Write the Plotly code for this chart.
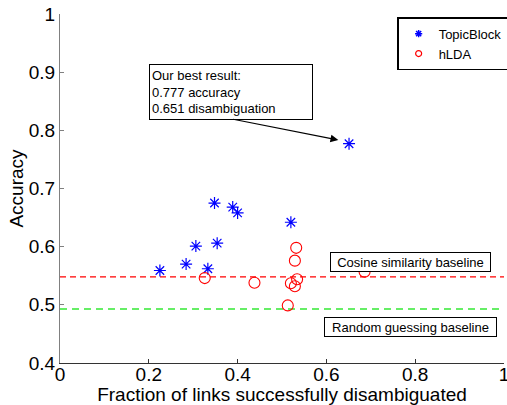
import plotly.graph_objects as go

# TopicBlock results (fraction disambiguated, accuracy)
topic_x = [0.225, 0.284, 0.306, 0.333, 0.354, 0.348, 0.389, 0.400, 0.520, 0.651]
topic_y = [0.559, 0.570, 0.601, 0.562, 0.606, 0.675, 0.668, 0.658, 0.642, 0.777]

# hLDA results
hlda_x = [0.326, 0.438, 0.532, 0.529, 0.534, 0.520, 0.529, 0.513, 0.651, 0.686]
hlda_y = [0.546, 0.538, 0.598, 0.576, 0.544, 0.537, 0.532, 0.499, 0.468, 0.557]

# Baselines
cosine_baseline = 0.548
random_baseline = 0.493
baseline_x = [0, 1]

x_ticks = [0, 0.2, 0.4, 0.6, 0.8, 1]
x_tick_labels = ["0", "0.2", "0.4", "0.6", "0.8", "1"]
y_ticks = [0.4, 0.5, 0.6, 0.7, 0.8, 0.9, 1]
y_tick_labels = ["0.4", "0.5", "0.6", "0.7", "0.8", "0.9", "1"]

FONT = "Liberation Sans, Arial, Helvetica, sans-serif"

fig = go.Figure()

fig.add_trace(go.Scatter(
    x=baseline_x, y=[cosine_baseline] * 2, mode="lines",
    line=dict(color="#ff0000", width=1.2, dash="6px,4px"),
    showlegend=False, hoverinfo="skip"))
fig.add_trace(go.Scatter(
    x=baseline_x, y=[random_baseline] * 2, mode="lines",
    line=dict(color="#66ee66", width=2, dash="7px,5px"),
    showlegend=False, hoverinfo="skip"))

fig.add_trace(go.Scatter(
    x=topic_x, y=topic_y, mode="markers", name="TopicBlock",
    marker=dict(symbol="asterisk-open", size=10, color="blue",
                line=dict(color="blue", width=1.2)),
    showlegend=False))
fig.add_trace(go.Scatter(
    x=hlda_x, y=hlda_y, mode="markers", name="hLDA",
    marker=dict(symbol="circle-open", size=11, color="red",
                line=dict(color="red", width=1.1)),
    showlegend=False))

# legend entries with small markers
fig.add_trace(go.Scatter(
    x=[None], y=[None], mode="markers", name="TopicBlock",
    marker=dict(symbol="asterisk-open", size=6, color="blue",
                line=dict(color="blue", width=1.5))))
fig.add_trace(go.Scatter(
    x=[None], y=[None], mode="markers", name="hLDA",
    marker=dict(symbol="circle-open", size=6, color="red",
                line=dict(color="red", width=1.2))))

annotations = [
    dict(x=0.789, y=0.5736, xref="x", yref="y", text="Cosine similarity baseline",
         showarrow=False, font=dict(size=13, color="black", family=FONT),
         bgcolor="white", bordercolor="black", borderwidth=1, borderpad=1,
         width=157, height=16),
    dict(x=0.790, y=0.4624, xref="x", yref="y", text="Random guessing baseline",
         showarrow=False, font=dict(size=13, color="black", family=FONT),
         bgcolor="white", bordercolor="black", borderwidth=1, borderpad=1,
         width=169, height=16),
    dict(x=0.385, y=0.8667, xref="x", yref="y",
         text="Our best result:<br>0.777 accuracy<br>0.651 disambiguation",
         showarrow=False, align="left",
         font=dict(size=13, color="black", family=FONT),
         bgcolor="white", bordercolor="black", borderwidth=1, borderpad=2,
         width=158, height=50),
    dict(x=0.6268, y=0.7834, xref="x", yref="y",
         ax=0.3867, ay=0.8195, axref="x", ayref="y",
         text="", showarrow=True, arrowhead=2, arrowsize=1.3, arrowwidth=1.2,
         arrowcolor="black"),
]

fig.update_layout(
    width=507, height=405,
    margin=dict(l=60, r=3, t=14, b=42, autoexpand=False),
    paper_bgcolor="white", plot_bgcolor="white",
    font=dict(family=FONT, size=19, color="black"),
    annotations=annotations,
    legend=dict(x=0.76, y=0.99, xanchor="left", yanchor="top",
                bgcolor="white", bordercolor="black", borderwidth=1.2,
                font=dict(size=13, family=FONT), itemwidth=30,
                tracegroupgap=0),
    xaxis=dict(range=[0, 1], tickvals=x_ticks, ticktext=x_tick_labels,
               ticks="inside", ticklen=4, tickcolor="#333333",
               showline=True, linecolor="#333333", linewidth=1,
               showgrid=False, zeroline=False, mirror=False, automargin=False,
               ticklabeloverflow="allow", ticklabelstandoff=-6,
               tickfont=dict(size=19),
               title=dict(text="Fraction of links successfully disambiguated",
                          font=dict(size=19), standoff=0)),
    yaxis=dict(range=[0.4, 1], tickvals=y_ticks, ticktext=y_tick_labels,
               ticks="inside", ticklen=4, tickcolor="#808080",
               showline=True, linecolor="#808080", linewidth=1.2,
               showgrid=False, zeroline=False, mirror=False, automargin=False,
               ticklabeloverflow="allow",
               tickfont=dict(size=19),
               title=dict(text="Accuracy", font=dict(size=19), standoff=0)),
)

fig.write_html("out.html", config={"displayModeBar": False},
               post_script="document.body.style.margin='0';document.body.style.padding='0';")
